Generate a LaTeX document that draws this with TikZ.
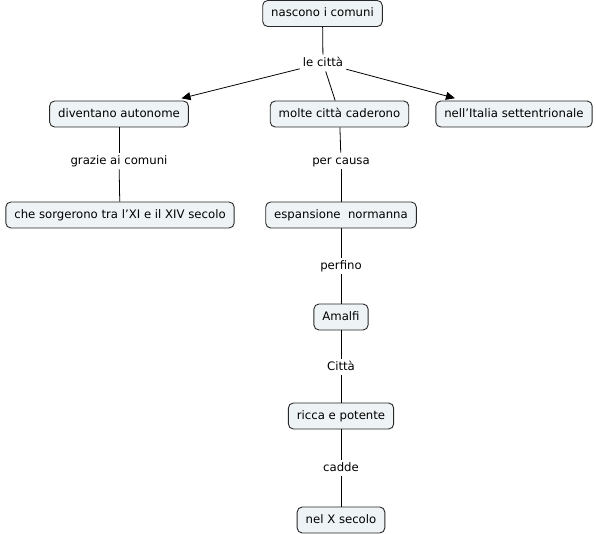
\documentclass[tikz,border=0pt]{standalone}
\usepackage{fontspec}
\setmainfont{DejaVu Sans}
\usetikzlibrary{arrows.meta}
\definecolor{boxfill}{RGB}{238,243,245}
\definecolor{boxline}{RGB}{40,40,40}
\begin{document}
\begin{tikzpicture}[x=1pt,y=1pt,
  concept/.style={draw=boxline, fill=boxfill, rounded corners=5pt, line width=0.9pt,
    font=\fontsize{11.7}{13}\selectfont, inner xsep=8.5pt, inner ysep=0pt,
    minimum height=26pt, text height=9pt, text depth=2.5pt},
  linklabel/.style={fill=white, font=\fontsize{11.7}{13}\selectfont, inner xsep=3pt, inner ysep=2.5pt,
    text height=9pt, text depth=2.5pt},
  conn/.style={line width=0.8pt, black},
  arr/.style={conn, -{Triangle[length=9pt,width=8pt]}, shorten >=9pt}
]
\useasboundingbox (0,0) rectangle (596,-534);
\node[concept] (nasc) at (322.5,-13.5) {nascono i comuni};
\node[linklabel] (lc) at (323,-63) {le città};
\node[concept] (dive) at (119,-114) {diventano autonome};
\node[concept] (molte) at (339.5,-114) {molte città caderono};
\node[concept] (nell) at (514,-114) {nell\symbol{39}Italia settentrionale};
\node[linklabel] (graz) at (119,-161) {grazie ai comuni};
\node[concept] (che) at (120,-215) {che sorgerono tra l\symbol{39}XI e il XIV secolo};
\node[linklabel] (causa) at (341,-161) {per causa};
\node[concept] (esp) at (341,-215) {espansione\ \ normanna};
\node[linklabel] (perf) at (341,-266) {perfino};
\node[concept] (amal) at (341,-317) {Amalfi};
\node[linklabel] (citt) at (341,-367) {Città};
\node[concept] (ricca) at (341,-416) {ricca e potente};
\node[linklabel] (cadde) at (341,-468) {cadde};
\node[concept] (nelx) at (341,-520) {nel X secolo};

\draw[conn] (nasc) -- (lc);
\draw[arr] (lc) -- (dive);
\draw[arr] (lc) -- (nell);
\draw[conn] (lc) -- (molte);
\draw[conn] (dive) -- (graz);
\draw[conn] (graz) -- (che);
\draw[conn] (molte) -- (causa);
\draw[conn] (causa) -- (esp);
\draw[conn] (esp) -- (perf);
\draw[conn] (perf) -- (amal);
\draw[conn] (amal) -- (citt);
\draw[conn] (citt) -- (ricca);
\draw[conn] (ricca) -- (cadde);
\draw[conn] (cadde) -- (nelx);
\end{tikzpicture}
\end{document}
